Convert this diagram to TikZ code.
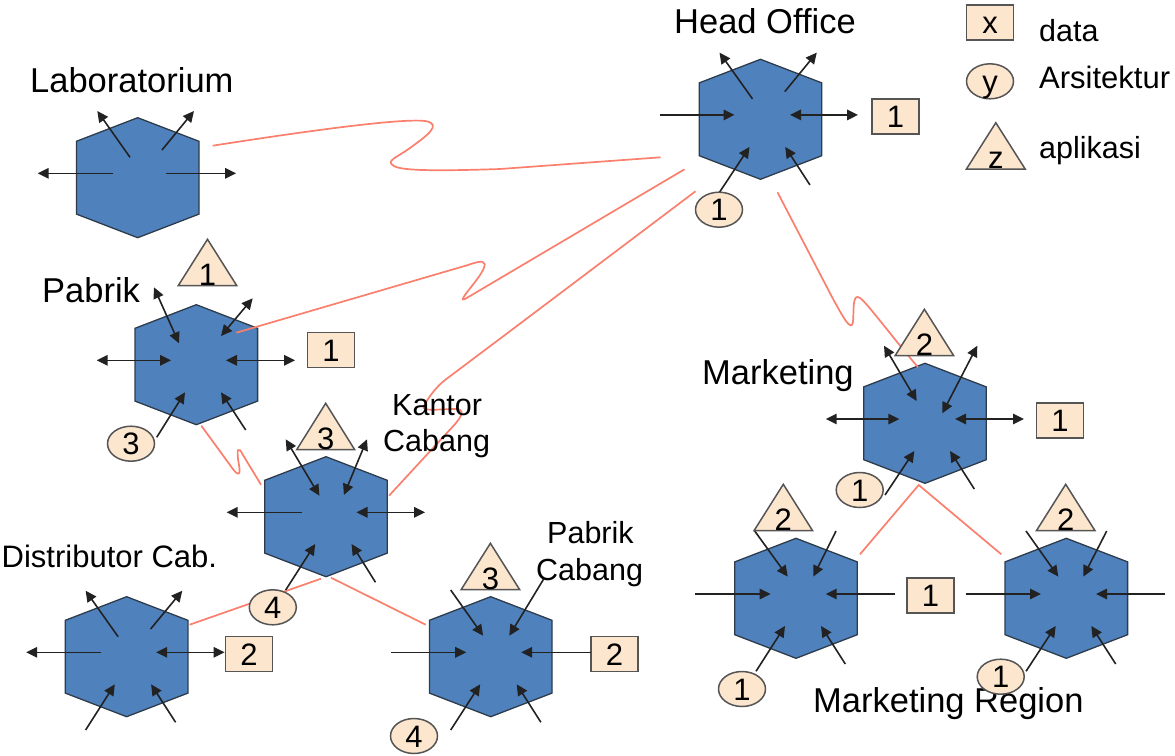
\documentclass[tikz,border=0pt]{standalone}
\usepackage{fontspec}
\setmainfont{Liberation Sans}
\usetikzlibrary{arrows.meta,shapes.geometric}
\definecolor{hexblue}{HTML}{4F81BD}
\definecolor{hexedge}{HTML}{2E3B4A}
\definecolor{peach}{HTML}{FDE6CE}
\definecolor{peachedge}{HTML}{555555}
\definecolor{linkred}{HTML}{FA7F6C}
\definecolor{arrowdark}{HTML}{222222}
\tikzset{
  x=1pt,y=-1pt,
  >={Triangle[length=11pt,width=10.5pt]},
  hexa/.style={fill=hexblue,draw=hexedge,line width=1.3pt,line join=miter},
  anchorbox/.style={inner sep=0pt,minimum width=122pt,minimum height=120pt},
  flow/.style={draw=arrowdark,line width=1.6pt},
  link/.style={draw=linkred,line width=1.7pt},
  databox/.style={rectangle,fill=peach,draw=peachedge,line width=1.5pt,minimum width=47pt,minimum height=35pt,inner sep=0pt,text height=22pt,text depth=0pt,font=\fontsize{31}{33}\selectfont},
  archoval/.style={ellipse,fill=peach,draw=peachedge,line width=1.5pt,minimum width=47pt,minimum height=35pt,inner sep=0pt,text height=22pt,text depth=0pt,font=\fontsize{31}{33}\selectfont},
  trishape/.style={fill=peach,draw=peachedge,line width=1.5pt,line join=miter},
  tritext/.style={inner sep=0pt,anchor=base,font=\fontsize{31}{33}\selectfont},
  biglabel/.style={inner sep=0pt,anchor=base west,font=\fontsize{34.5}{36}\selectfont},
  midlabel/.style={inner sep=0pt,anchor=base west,font=\fontsize{30.5}{36}\selectfont},
}
\newcommand{\Hx}[2]{%
  \path[hexa,shift={(#2)}] (0,-60) -- (61.3,-36.4) -- (61.3,36.4) -- (0,60) -- (-61.3,36.4) -- (-61.3,-36.4) -- cycle;
  \node[anchorbox] (#1) at (#2) {};}
\newcommand{\Ar}[4][->]{\draw[flow,#1] ([shift={(#3)}]#2.center) -- ([shift={(#4)}]#2.center);}
\newcommand{\Tri}[5]{% name, apex x, apex y, half width, text
  \path[trishape] (#2,#3) -- (#2+#4,#3+46.4) -- (#2-#4,#3+46.4) -- cycle;
  \node[tritext] (#1) at (#2,#3+46) {#5};}
\begin{document}
\begin{tikzpicture}
\useasboundingbox (0,0) rectangle (1175,755);
% text lying under the shapes
\node[biglabel] (lblmr) at (813,712) {Marketing Region};
% hexagons
\Hx{ho}{760.5,119.3}
\Hx{lab}{137.7,177.7}
\Hx{pb}{196.3,364.7}
\Hx{kc}{326,516.7}
\Hx{dc}{126.6,656.7}
\Hx{pc}{490.7,656.7}
\Hx{mk}{925,423.3}
\Hx{ma}{796,598.3}
\Hx{mb}{1066.3,598.3}
% links
\draw[link] ([shift={(75,-32)}]lab.center) .. controls (300,132) and (400,118) .. (425,121)
  .. controls (444,124) and (425,137) .. (410,148)
  .. controls (396,158) and (385,161) .. (394,166)
  .. controls (402,171) and (440,171) .. (500,169) -- ([shift={(-100,38)}]ho.center);
\draw[link] ([shift={(40,-32)}]pb.center) -- (468,265)
  .. controls (482,260) and (488,260) .. (483,270)
  .. controls (477,282) and (456,303) .. (465,299) -- ([shift={(-76,50)}]ho.center);
\draw[link] ([shift={(63,-21)}]kc.center) -- (445,435)
  .. controls (455,424) and (470,410) .. (456,409)
  .. controls (440,409) and (420,412) .. (424,406)
  .. controls (428,398) and (436,387) .. (445,380) -- (498.3,340) -- ([shift={(-65,72)}]ho.center);
\draw[link] ([shift={(17,73)}]ho.center) -- (832,297)
  .. controls (842,315) and (851,333) .. (853,322)
  .. controls (854,312) and (852,292) .. (860,298)
  .. controls (867,303) and (885,328) .. ([shift={(-7,-56)}]mk.center);
\draw[link] ([shift={(5,61)}]pb.center) -- (230,465)
  .. controls (238,477) and (241,476) .. (239,465)
  .. controls (236,449) and (238,445) .. (243,455) -- ([shift={(-65,-32)}]kc.center);
\draw[link] ([shift={(63,-32)}]dc.center) -- ([shift={(-5,62)}]kc.center);
\draw[link] ([shift={(5,61)}]kc.center) -- ([shift={(-65,-32)}]pc.center);
\coordinate (mkapex) at ([shift={(-6.3,61.7)}]mk.center);
\draw[link] ([shift={(64,-44)}]ma.center) -- (mkapex) -- ([shift={(-65,-44)}]mb.center);
% data boxes
\node[databox] (hobox) at (895.6,116.3) {1};
\node[databox] (pbbox) at (331,350) {1};
\node[databox] (dcbox) at (249,654) {2};
\node[databox] (pcbox) at (614.4,654) {2};
\node[databox] (mkbox) at (1060,420.5) {1};
\node[databox] (mabox) at (930.5,595.7) {1};
\node[databox] (lgbox) at (990,22.7) {x};
% arrows
% head office
\Ar{ho}{-101,-4.4}{-26,-4.4}
\Ar[<->]{ho}{29.5,-4.4}{97.5,-4.4}
\Ar{ho}{-8,-20.4}{-41,-66.7}
\Ar{ho}{24.3,-27.7}{56.3,-66.7}
\Ar{ho}{-41,73}{-11,27.6}
\Ar{ho}{49.4,65.6}{24.7,27.6}
% laboratorium
\Ar{lab}{-24.4,-4.4}{-100,-4.4}
\Ar{lab}{28.3,-4.4}{98.3,-4.4}
\Ar{lab}{-7.7,-20.4}{-40.4,-66.7}
\Ar{lab}{24.3,-27.7}{56.3,-66.7}
% pabrik
\Ar[<->]{pb}{-99.6,-4.4}{-25.3,-4.4}
\Ar[<->]{pb}{29.7,-4.4}{98.7,-4.4}
\Ar[<->]{pb}{-17.3,-21.4}{-42.3,-77.4}
\Ar[<->]{pb}{24.7,-28.7}{56.4,-66.4}
\Ar{pb}{-39.6,72.6}{-11.3,27.6}
\Ar{pb}{49.4,65.3}{24.7,27.6}
% kantor cabang
\Ar{kc}{-24.3,-4.4}{-99.4,-4.4}
\Ar[<->]{kc}{30.5,-4.4}{99,-4.4}
\Ar[<->]{kc}{-6.6,-21}{-40.3,-77.4}
\Ar[<->]{kc}{17.9,-21.7}{41,-77.4}
\Ar{kc}{-40.3,73.3}{-10.8,27.3}
\Ar{kc}{49.5,65.6}{25.5,27.3}
% distributor
\Ar{dc}{-25.3,-4.4}{-100.4,-4.4}
\Ar[<->]{dc}{29.5,-4.4}{98,-4.4}
\Ar{dc}{-8.5,-20}{-41,-66}
\Ar{dc}{24,-27.7}{55.7,-66}
\Ar{dc}{-41,73.3}{-11.8,27.6}
\Ar{dc}{49,65.6}{24.5,27.6}
% pabrik cabang
\Ar{pc}{-99.6,-4.4}{-24.5,-4.4}
\Ar{pc}{100,-4.4}{30.4,-4.4}
\Ar{pc}{-40,-66.7}{-7.6,-21}
\Ar{pc}{52.8,-77.4}{18.6,-21}
\Ar{pc}{-40,73.3}{-10.5,27.6}
\Ar{pc}{50.2,65.6}{26,27.6}
% marketing
\Ar[<->]{mk}{-99.3,-4.3}{-25.7,-4.3}
\Ar[<->]{mk}{30,-4.3}{99,-4.3}
\Ar[<->]{mk}{-8.3,-22.3}{-41,-77.6}
\Ar[<->]{mk}{17.3,-10}{52.3,-77.6}
\Ar{mk}{-40,71.7}{-10.7,27.7}
\Ar{mk}{49.3,65.7}{25,27.7}
% marketing region
\Ar{ma}{-100.7,-4.3}{-25.3,-4.3}
\Ar{ma}{99,-4.3}{29.7,-4.3}
\Ar{ma}{-41.3,-67.3}{-8.3,-21.7}
\Ar{ma}{40,-67.3}{17.3,-21.7}
\Ar{ma}{-40,73}{-11,27.7}
\Ar{ma}{49.3,65.7}{25,27.7}
\Ar{mb}{-100.6,-4.3}{-25.3,-4.3}
\Ar{mb}{99,-4.3}{29.7,-4.3}
\Ar{mb}{-40.3,-67.3}{-8,-21.7}
\Ar{mb}{40.4,-67.3}{17,-21.7}
\Ar{mb}{-40.3,73}{-10.6,27.7}
\Ar{mb}{49.4,65.7}{25,27.7}
% ovals
\node[archoval] (hoval) at (719,209.7) {1};
\node[archoval] (pbval) at (131,443.7) {3};
\node[archoval] (kcval) at (272.8,607.3) {4};
\node[archoval] (pcval) at (414,736) {4};
\node[archoval] (mkval) at (859.7,490) {1};
\node[archoval] (maval) at (742,689) {1};
\node[archoval] (mbval) at (1000.7,676.7) {1};
\node[archoval] (lgval) at (990,81.3) {y};
% triangles
\Tri{pbtri}{207.5}{239.3}{29.3}{1}
\Tri{kctri}{325.7}{403.3}{29}{3}
\Tri{pctri}{490.4}{543.3}{29.3}{3}
\Tri{mktri}{924.4}{309.3}{29.3}{2}
\Tri{matri}{783.3}{484.3}{29.3}{2}
\Tri{mbtri}{1065.7}{484.3}{29.3}{2}
\Tri{lgtri}{995.8}{122.7}{29.4}{z}
% labels
\node[biglabel] (lblho) at (674,33.5) {Head Office};
\node[biglabel] (lbllab) at (30,92.5) {Laboratorium};
\node[biglabel] (lblpb) at (42,302) {Pabrik};
\node[biglabel] (lblmk) at (702,384) {Marketing};
\node[midlabel] (lblkc1) at (392,415) {Kantor};
\node[midlabel] (lblkc2) at (383,451) {Cabang};
\node[midlabel] (lblpc1) at (547,543) {Pabrik};
\node[midlabel] (lblpc2) at (536,580) {Cabang};
\node[midlabel,font=\fontsize{31}{36}\selectfont] (lbldc) at (1.5,567) {Distributor Cab.};
\node[midlabel] (lgdata) at (1039,41) {data};
\node[midlabel,font=\fontsize{31}{36}\selectfont] (lgarch) at (1039,88) {Arsitektur};
\node[midlabel] (lgapp) at (1039,158) {aplikasi};
\end{tikzpicture}
\end{document}
